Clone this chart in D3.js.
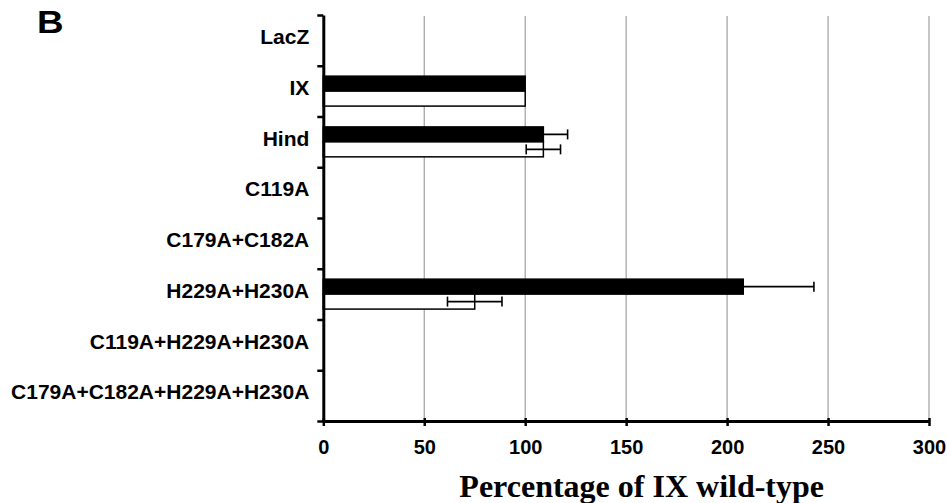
<!DOCTYPE html>
<html>
<head>
<meta charset="utf-8">
<script src="https://cdn.jsdelivr.net/npm/d3@7"></script>
<style>
    body { margin: 0; background: #fff; }
    .axis path, .axis line { stroke: #000; }
    .axis text { font-family: "Liberation Sans", Arial, sans-serif; font-weight: bold; fill: #000; }
</style>
</head>
<body>
<div id="chart"></div>
<script>
// Mutant constructs (top to bottom)
const categories = ["LacZ", "IX", "Hind", "C119A", "C179A+C182A", "H229A+H230A",
    "C119A+H229A+H230A", "C179A+C182A+H229A+H230A"];

// Black (filled) series and its error
const blackValues = [0, 100, 109, 0, 0, 208, 0, 0];
const blackErrors = [0, 0, 12, 0, 0, 35, 0, 0];

// White (open) series and its error
const whiteValues = [0, 100, 109, 0, 0, 75, 0, 0];
const whiteErrors = [0, 0, 8.5, 0, 0, 13.5, 0, 0];

const xTicks = [0, 50, 100, 150, 200, 250, 300];
const series = ["black", "white"];

function createChart() {
    const totalWidth = 947, totalHeight = 503;
    const margin = { top: 15, right: 18, bottom: 82, left: 323.3 };
    const width = totalWidth - margin.left - margin.right;
    const height = totalHeight - margin.top - margin.bottom;

    // Build rows for the bars
    const rows = [];
    categories.forEach((c, i) => {
        rows.push({ cat: c, key: "black", value: blackValues[i], err: blackErrors[i] });
        rows.push({ cat: c, key: "white", value: whiteValues[i], err: whiteErrors[i] });
    });

    const svg = d3.select("#chart")
        .append("svg")
        .attr("width", totalWidth)
        .attr("height", totalHeight);

    const g = svg.append("g")
        .attr("transform", `translate(${margin.left}, ${margin.top})`);

    // Scales
    const xScale = d3.scaleLinear().domain([0, 300]).range([0, width]);

    const yScale = d3.scaleBand()
        .domain(categories)
        .range([0, height])
        .paddingInner(0.41)
        .paddingOuter(0.205);

    const ySub = d3.scaleBand()
        .domain(series)
        .range([0, yScale.bandwidth()]);

    // category boundaries for the left ticks
    const yEdge = d3.scaleLinear().domain([0, categories.length]).range([0, height]);

    // Vertical gridlines
    g.append("g")
        .selectAll("line")
        .data(xTicks.filter(d => d > 0))
        .join("line")
        .attr("x1", d => xScale(d))
        .attr("x2", d => xScale(d))
        .attr("y1", 1)
        .attr("y2", height)
        .attr("stroke", "#a0a0a0")
        .attr("stroke-width", 1.2);

    // Bars
    const bars = rows.filter(d => d.value > 0);
    g.append("g")
        .selectAll("rect")
        .data(bars)
        .join("rect")
        .attr("x", 0)
        .attr("y", d => yScale(d.cat) + ySub(d.key))
        .attr("width", d => xScale(d.value))
        .attr("height", ySub.bandwidth())
        .attr("fill", d => d.key === "black" ? "#000" : "#fff")
        .attr("stroke", "#000")
        .attr("stroke-width", 1.5);

    // Error bars
    const errs = rows.filter(d => d.err > 0);
    const errG = g.append("g")
        .attr("stroke", "#000")
        .attr("stroke-width", 1.6);

    errG.selectAll("line.err")
        .data(errs)
        .join("line")
        .attr("class", "err")
        .attr("x1", d => xScale(d.value - d.err))
        .attr("x2", d => xScale(d.value + d.err))
        .attr("y1", d => yScale(d.cat) + ySub(d.key) + ySub.bandwidth() / 2)
        .attr("y2", d => yScale(d.cat) + ySub(d.key) + ySub.bandwidth() / 2);

    errG.selectAll("line.capl")
        .data(errs)
        .join("line")
        .attr("class", "capl")
        .attr("x1", d => xScale(d.value - d.err))
        .attr("x2", d => xScale(d.value - d.err))
        .attr("y1", d => yScale(d.cat) + ySub(d.key) + ySub.bandwidth() / 2 - 5)
        .attr("y2", d => yScale(d.cat) + ySub(d.key) + ySub.bandwidth() / 2 + 5);

    errG.selectAll("line.capr")
        .data(errs)
        .join("line")
        .attr("class", "capr")
        .attr("x1", d => xScale(d.value + d.err))
        .attr("x2", d => xScale(d.value + d.err))
        .attr("y1", d => yScale(d.cat) + ySub(d.key) + ySub.bandwidth() / 2 - 5)
        .attr("y2", d => yScale(d.cat) + ySub(d.key) + ySub.bandwidth() / 2 + 5);

    // x-axis
    const xAxis = g.append("g")
        .attr("class", "axis x-axis")
        .attr("transform", `translate(0, ${height})`)
        .call(d3.axisBottom(xScale).tickValues(xTicks).tickSize(5).tickSizeOuter(0).tickPadding(14));
    xAxis.select(".domain").attr("stroke-width", 3);
    xAxis.selectAll(".tick line").attr("stroke-width", 2.5).attr("y1", -3);
    xAxis.selectAll(".tick text").style("font-size", "20px");

    // y-axis: boundary ticks
    const yAxis = g.append("g")
        .attr("class", "axis y-axis")
        .call(d3.axisLeft(yEdge).tickValues(d3.range(categories.length + 1)).tickFormat("").tickSize(6).tickSizeOuter(0));
    yAxis.select(".domain").attr("stroke-width", 3);
    yAxis.selectAll(".tick line").attr("stroke-width", 2.5);

    // y-axis: category labels
    const yLabels = g.append("g")
        .attr("class", "axis y-labels")
        .call(d3.axisLeft(yScale).tickSize(0).tickPadding(14));
    yLabels.select(".domain").remove();
    yLabels.selectAll(".tick text")
        .style("font-size", "21px")
        .attr("y", -3);

    // Panel letter
    svg.append("text")
        .attr("transform", "translate(37, 33.3) scale(1.15, 1)")
        .style("font-family", "'Liberation Sans', Arial, sans-serif")
        .style("font-weight", "bold")
        .style("font-size", "32px")
        .text("B");

    // x-axis label
    svg.append("text")
        .attr("x", 641.7)
        .attr("y", 497)
        .attr("text-anchor", "middle")
        .style("font-family", "'Liberation Serif', 'Times New Roman', serif")
        .style("font-weight", "bold")
        .style("font-size", "32px")
        .text("Percentage of IX wild-type");
}

createChart();
</script>
</body>
</html>
